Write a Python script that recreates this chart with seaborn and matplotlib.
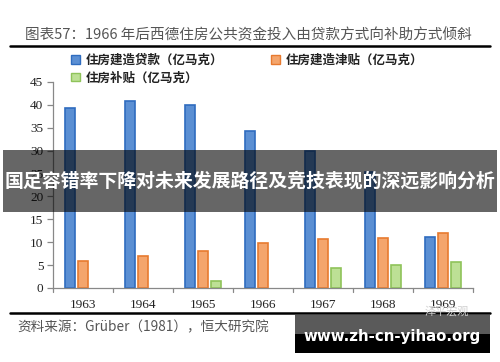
import matplotlib
matplotlib.use("Agg")
import matplotlib.pyplot as plt
import seaborn as sns
import pandas as pd
from matplotlib.patches import Patch, Rectangle
from matplotlib.lines import Line2D

years = ["1963", "1964", "1965", "1966", "1967", "1968", "1969"]
loans = [39.4, 40.9, 39.9, 34.3, 30.0, 25.3, 11.2]
build_subsidy = [6.0, 7.0, 8.1, 9.9, 10.8, 10.9, 12.1]
housing_subsidy = [0.0, 0.0, 1.5, 0.0, 4.3, 5.1, 5.7]
series_names = ["住房建造贷款（亿马克）", "住房建造津贴（亿马克）", "住房补贴（亿马克）"]
yticks = [0, 5, 10, 15, 20, 25, 30, 35, 40, 45]

rows = []
for name, vals in zip(series_names, [loans, build_subsidy, housing_subsidy]):
    for y, v in zip(years, vals):
        rows.append({"year": y, "series": name, "value": v})
df = pd.DataFrame(rows)

sns.set_theme(style="white")
plt.rcParams["font.family"] = ["Noto Sans CJK SC", "DejaVu Sans"]

fills = ["#5b8fd3", "#f4a56c", "#bde095"]
edges = ["#2f6cbf", "#e77a2f", "#8fc35a"]

fig = plt.figure(figsize=(5.0, 3.62), dpi=100)
ax = fig.add_axes([53/500, 1-288/362, 420/500, (288-82)/362])

sns.barplot(data=df, x="year", y="value", hue="series", order=years,
            hue_order=series_names, palette=fills, width=0.65, gap=0.17,
            ax=ax, legend=False, saturation=1)
for i, cont in enumerate(ax.containers):
    for bar in cont:
        bar.set_edgecolor(edges[i])
        bar.set_linewidth(1.2)
        if bar.get_height() == 0:
            bar.set_visible(False)

ax.set_ylim(0, 45)
ax.set_xlim(-0.5, 6.5)
ax.set_yticks(yticks)
ax.set_xlabel("")
ax.set_ylabel("")
for s in ["top", "right"]:
    ax.spines[s].set_visible(False)
for s in ["left", "bottom"]:
    ax.spines[s].set_color("#888888")
    ax.spines[s].set_linewidth(0.9)
ax.tick_params(axis="y", left=True, length=4, color="#888888", width=0.9, pad=3)
ax.tick_params(axis="x", bottom=False, pad=2)
for lbl in ax.get_yticklabels() + ax.get_xticklabels():
    lbl.set_family("Liberation Serif")
    lbl.set_fontsize(9.5)
    lbl.set_color("#222222")
# x ticks between categories
for k in range(8):
    ax.plot([k-0.5, k-0.5], [0, -0.9], color="#888888", lw=0.9, clip_on=False,
            transform=ax.transData)

# title and rules
fig.text(25/500, 1-35/362, "图表57：1966 年后西德住房公共资金投入由贷款方式向补助方式倾斜",
         fontsize=10.5, color="#555555", va="center", ha="left",
         family=["Noto Sans CJK SC", "DejaVu Sans"])
fig.add_artist(Line2D([10/500, 490/500], [1-46/362, 1-46/362], color="black", lw=1.8))
fig.add_artist(Line2D([10/500, 490/500], [1-313/362, 1-313/362], color="black", lw=1.8))
fig.text(17/500, 1-327/362, "资料来源：Grüber（1981），恒大研究院", fontsize=9.8,
         color="#555555", style="italic", va="center", ha="left")

# legend
handles = [Patch(facecolor=fills[i], edgecolor=edges[i], label=series_names[i]) for i in range(3)]
order = [0, 2, 1]
leg = fig.legend([handles[i] for i in order], [series_names[i] for i in order],
                 loc="upper left", bbox_to_anchor=(71/500, 1-54/362), ncol=2,
                 frameon=False, fontsize=9, handlelength=0.7, handleheight=0.7,
                 handletextpad=0.5, columnspacing=3.8, labelspacing=0.35,
                 borderaxespad=0, borderpad=0)
for t in leg.get_texts():
    t.set_fontweight("bold")
    t.set_color("#222222")

# faint watermark
fig.text(447/500, 1-311/362, "泽平宏观", fontsize=8, color="#d0d0d0", ha="center", va="center")

# overlay band
fig.add_artist(Rectangle((3/500, 1-212/362), 494/500, 62/362, transform=fig.transFigure,
                         facecolor="#000000", alpha=0.6, edgecolor="none"))
fig.text(250/500, 1-181/362, "国足容错率下降对未来发展路径及竞技表现的深远影响分析",
         fontsize=13.6, color="white", fontweight="bold", ha="center", va="center")

# bottom-right box
fig.add_artist(Rectangle((295/500, 1-334/362), 195/500, 19/362, transform=fig.transFigure,
                         facecolor="#5a5a5a", edgecolor="none"))
fig.add_artist(Rectangle((295/500, 1-353/362), 195/500, 19/362, transform=fig.transFigure,
                         facecolor="#000000", edgecolor="none"))
fig.text(392/500, 1-337/362, "www.zh-cn-yihao.org", fontsize=10.8, color="white",
         fontweight="bold", ha="center", va="center", family="DejaVu Sans")

fig.savefig("out.png", dpi=100)
